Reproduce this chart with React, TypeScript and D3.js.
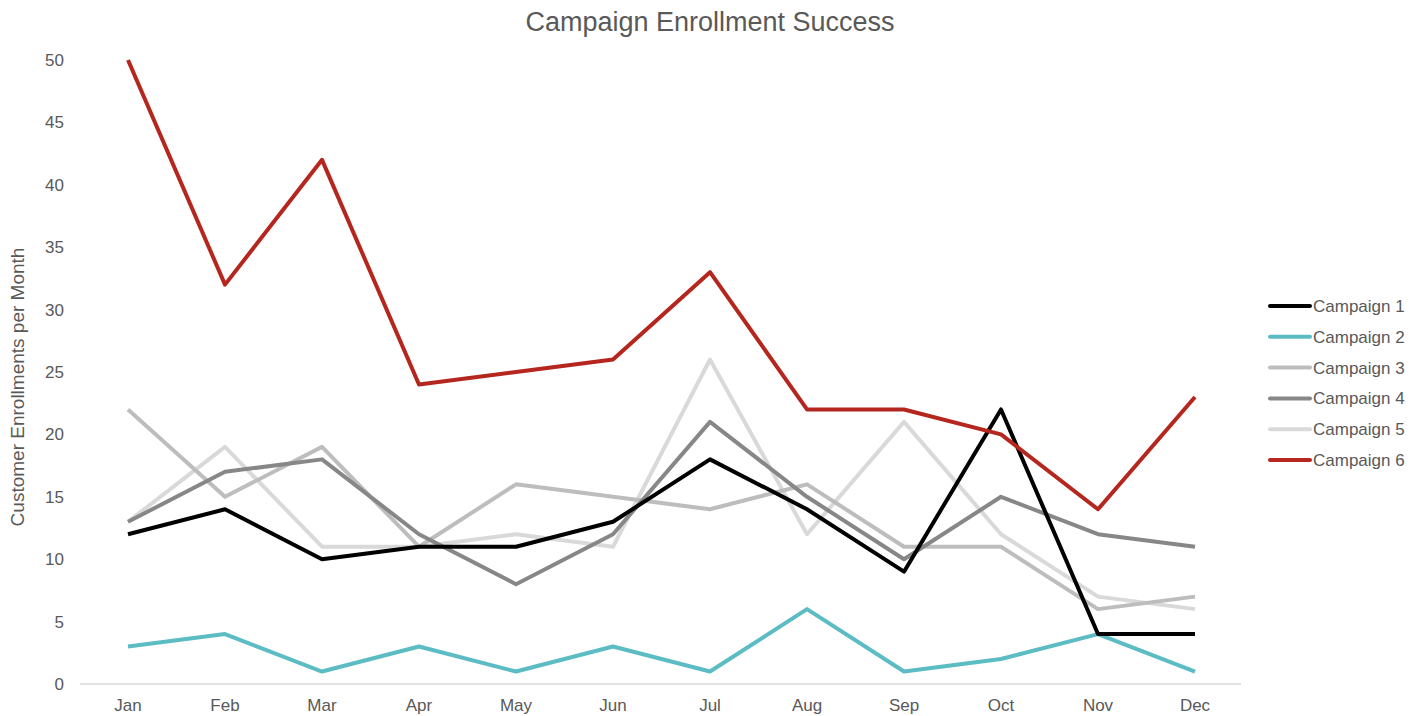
import React from "react";
import * as d3 from "d3";

const months = ["Jan", "Feb", "Mar", "Apr", "May", "Jun", "Jul", "Aug", "Sep", "Oct", "Nov", "Dec"];
const yTicks = [0, 5, 10, 15, 20, 25, 30, 35, 40, 45, 50];
const seriesNames = ["Campaign 1", "Campaign 2", "Campaign 3", "Campaign 4", "Campaign 5", "Campaign 6"];
const campaign1 = [12, 14, 10, 11, 11, 13, 18, 14, 9, 22, 4, 4];
const campaign2 = [3, 4, 1, 3, 1, 3, 1, 6, 1, 2, 4, 1];
const campaign3 = [22, 15, 19, 11, 16, 15, 14, 16, 11, 11, 6, 7];
const campaign4 = [13, 17, 18, 12, 8, 12, 21, 15, 10, 15, 12, 11];
const campaign5 = [13, 19, 11, 11, 12, 11, 26, 12, 21, 12, 7, 6];
const campaign6 = [50, 32, 42, 24, 25, 26, 33, 22, 22, 20, 14, 23];
const seriesColors = ["#000000", "#5bbcc4", "#bdbdbd", "#878787", "#d9d9d9", "#b5271e"];

const allSeries = [campaign1, campaign2, campaign3, campaign4, campaign5, campaign6];
// draw order: lighter first, red last
const drawOrder = [4, 2, 3, 1, 0, 5];

export default function App() {
  const W = 1423, H = 716;
  const font = "'Liberation Sans', Arial, Helvetica, sans-serif";
  const textColor = "#595959";
  const x = d3.scalePoint<string>().domain(months).range([128, 1195]);
  const y = d3.scaleLinear().domain([0, 50]).range([684, 60]);
  const line = d3.line<number>().x((_, i) => x(months[i]) as number).y((d) => y(d));

  return (
    <svg width={W} height={H} style={{ position: "absolute", left: 0, top: 0, background: "#fff" }}>
      <text x={710} y={31} textAnchor="middle" fontFamily={font} fontSize={27} fill={textColor}>
        Campaign Enrollment Success
      </text>
      <text
        transform={`translate(24, 387) rotate(-90)`}
        textAnchor="middle"
        fontFamily={font}
        fontSize={19}
        fill={textColor}
      >
        Customer Enrollments per Month
      </text>
      {yTicks.map((t) => (
        <text key={t} x={64} y={y(t) + 6} textAnchor="end" fontFamily={font} fontSize={17} fill={textColor}>
          {t}
        </text>
      ))}
      <line x1={80} x2={1241} y1={y(0)} y2={y(0)} stroke="#d9d9d9" strokeWidth={1.5} />
      {months.map((m) => (
        <text key={m} x={x(m)} y={711} textAnchor="middle" fontFamily={font} fontSize={17} fill={textColor}>
          {m}
        </text>
      ))}
      {drawOrder.map((si) => (
        <path
          key={si}
          d={line(allSeries[si]) || ""}
          fill="none"
          stroke={seriesColors[si]}
          strokeWidth={4}
          strokeLinejoin="round"
          strokeLinecap="butt"
        />
      ))}
      {seriesNames.map((n, i) => {
        const ly = 306 + i * 30.8;
        return (
          <g key={n}>
            <line x1={1270} x2={1310} y1={ly} y2={ly} stroke={seriesColors[i]} strokeWidth={4} strokeLinecap="round" />
            <text x={1313} y={ly + 6} fontFamily={font} fontSize={17} fill={textColor}>
              {n}
            </text>
          </g>
        );
      })}
    </svg>
  );
}
